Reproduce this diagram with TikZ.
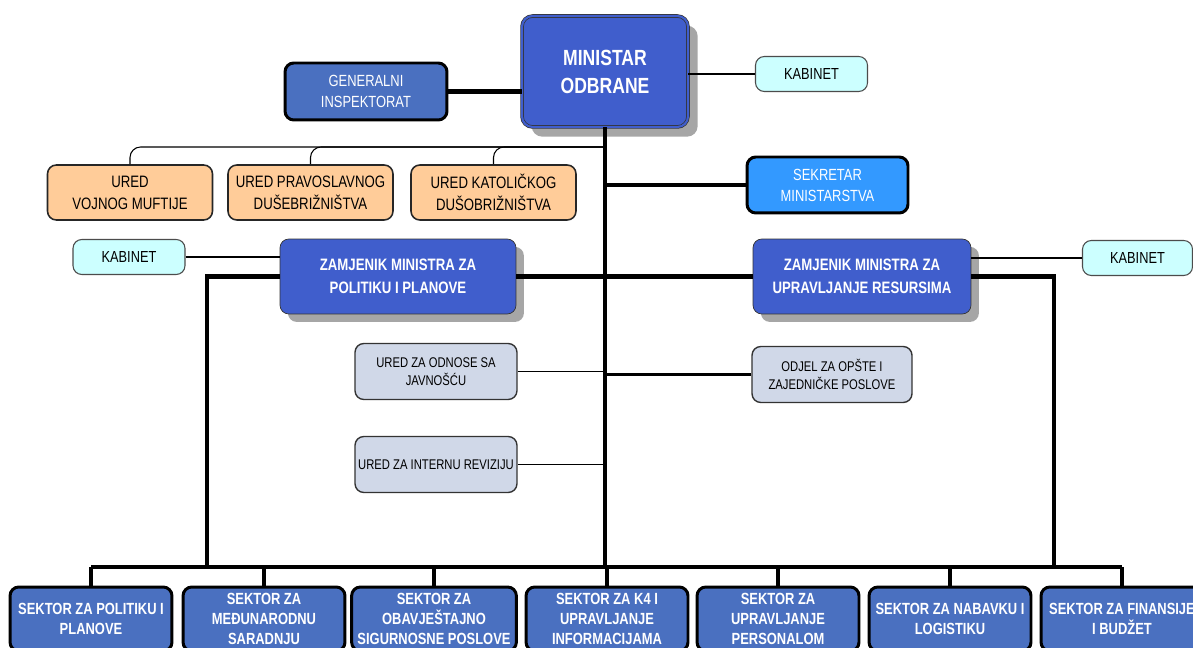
\documentclass[tikz,border=0pt]{standalone}
\usepackage{fontspec}
\setmainfont[FakeStretch=0.8]{Liberation Sans}
\usepackage{tikz}
\usetikzlibrary{shapes.geometric, arrows, shadows}
\definecolor{minblue}{RGB}{64,94,204}
\definecolor{sekblue}{RGB}{51,153,255}
\definecolor{steelblue}{RGB}{74,112,192}
\definecolor{uredorange}{RGB}{255,204,153}
\definecolor{kabcyan}{RGB}{204,255,255}
\definecolor{odjelgrey}{RGB}{208,216,232}
\tikzstyle{minbox} = [rectangle, rounded corners=6pt, minimum width=3.32cm, minimum height=2.22cm, align=center, draw=black!80, double=minblue, double distance=1.2pt, fill=minblue, text=white, font=\fontsize{12.5}{16}\selectfont\bfseries, drop shadow={shadow xshift=5.5pt, shadow yshift=-5.5pt, fill=black!35, opacity=1}]
\tikzstyle{zambox} = [rectangle, rounded corners=5pt, minimum height=1.5cm, align=center, draw=black!80, fill=minblue, text=white, font=\fontsize{9.4}{13}\selectfont\bfseries, drop shadow={shadow xshift=4.5pt, shadow yshift=-4.5pt, fill=black!35, opacity=1}]
\tikzstyle{inspbox} = [rectangle, rounded corners=5pt, minimum width=3.24cm, minimum height=1.14cm, align=center, draw=black, line width=1.7pt, fill=steelblue, text=white, font=\fontsize{9.2}{12}\selectfont]
\tikzstyle{sekbox} = [rectangle, rounded corners=5pt, minimum width=3.22cm, minimum height=1.12cm, align=center, draw=black, line width=1.7pt, fill=sekblue, text=white, font=\fontsize{9.2}{12}\selectfont]
\tikzstyle{sektorbox} = [rectangle, rounded corners=5pt, minimum width=3.24cm, minimum height=1.28cm, align=center, draw=black, line width=1.7pt, fill=steelblue, text=white, font=\fontsize{9.2}{11.5}\selectfont\bfseries]
\tikzstyle{uredbox} = [rectangle, rounded corners=5pt, minimum width=3.3cm, minimum height=1.1cm, align=center, draw=black!85, line width=0.9pt, fill=uredorange, font=\fontsize{9.4}{12.5}\selectfont]
\tikzstyle{kabinetbox} = [rectangle, rounded corners=5pt, minimum width=2.24cm, minimum height=0.7cm, align=center, draw=black!70, line width=0.6pt, fill=kabcyan, font=\fontsize{9.1}{11}\selectfont]
\tikzstyle{odjelbox} = [rectangle, rounded corners=5pt, minimum width=3.24cm, minimum height=1.12cm, align=center, draw=black!80, line width=0.8pt, fill=odjelgrey, font=\fontsize{8}{10.5}\selectfont]
\tikzstyle{thickline} = [line width=2.4pt, black]
\tikzstyle{midline} = [line width=1.2pt, black]
\tikzstyle{thinline} = [line width=0.6pt, black]

\begin{document}
\begin{tikzpicture}[x=0.02cm, y=-0.02cm]
	\useasboundingbox[fill=white] (0,0) rectangle (1193,648);
	\clip (0,0) rectangle (1193,648);

	\coordinate(bus) at (605,567);
	\coordinate(uredline) at (605,147);
	\coordinate(polbus) at (207,567);
	\coordinate(resbus) at (1054,567);

	\node(minister) [minbox] at (605,71.5) {MINISTAR\\ODBRANE};
	\node(inspektorat) [inspbox] at (366,91.5) {GENERALNI\\INSPEKTORAT};
	\node(kabinet) [kabinetbox] at (811.5,74) {KABINET};
	\node(muftija) [uredbox] at (130,192.5) {URED\\VOJNOG MUFTIJE};
	\node(pravoslavni) [uredbox] at (310.5,192.5) {URED PRAVOSLAVNOG\\DUŠEBRIŽNIŠTVA};
	\node(katolicki) [uredbox] at (493.5,192.5) {URED KATOLIČKOG\\DUŠOBRIŽNIŠTVA};
	\node(sekretar) [sekbox] at (827.5,185) {SEKRETAR\\MINISTARSTVA};
	\node(kabinetpol) [kabinetbox] at (129,257) {KABINET};
	\node(zampol) [zambox, minimum width=4.72cm] at (398,276.5) {ZAMJENIK MINISTRA ZA\\POLITIKU I PLANOVE};
	\node(zamres) [zambox, minimum width=4.36cm] at (862,276.5) {ZAMJENIK MINISTRA ZA\\UPRAVLJANJE RESURSIMA};
	\node(kabinetres) [kabinetbox, minimum width=2.2cm] at (1137.5,258) {KABINET};
	\node(javnost) [odjelbox] at (436,371.5) {URED ZA ODNOSE SA\\JAVNOŠĆU};
	\node(odjel) [odjelbox, minimum width=3.2cm] at (832,374.5) {ODJEL ZA OPŠTE I\\ZAJEDNIČKE POSLOVE};
	\node(revizija) [odjelbox, inner xsep=0.5pt] at (436,464.5) {URED ZA INTERNU REVIZIJU};

	\node(sekpol) [sektorbox] at (91,619) {SEKTOR ZA POLITIKU I\\PLANOVE};
	\node(sekmed) [sektorbox] at (264,619) {SEKTOR ZA\\MEĐUNARODNU\\SARADNJU};
	\node(sekobav) [sektorbox] at (434,619) {SEKTOR ZA\\OBAVJEŠTAJNO\\SIGURNOSNE POSLOVE};
	\node(sekkom) [sektorbox] at (607,619) {SEKTOR ZA K4 I\\UPRAVLJANJE\\INFORMACIJAMA};
	\node(sekpers) [sektorbox] at (778,619) {SEKTOR ZA\\UPRAVLJANJE\\PERSONALOM};
	\node(seknab) [sektorbox] at (950,619) {SEKTOR ZA NABAVKU I\\LOGISTIKU};
	\node(sekfin) [sektorbox] at (1122,619) {SEKTOR ZA FINANSIJE\\I BUDŽET};

	\draw[thickline] (inspektorat.east) -- (inspektorat.east -| minister.west);
	\draw[thinline] (kabinet.west) -- (kabinet.west -| minister.east);
	\draw[thickline] (minister.south) -- (bus);
	\draw[thinline, rounded corners=6pt] (muftija.north) |- (uredline);
	\draw[thinline, rounded corners=6pt] (pravoslavni.north) |- (uredline);
	\draw[thinline, rounded corners=6pt] (katolicki.north) |- (uredline);
	\draw[thickline] (sekretar.west) -- (sekretar.west -| bus);
	\draw[thinline] (kabinetpol.east) -- (kabinetpol.east -| zampol.west);
	\draw[thickline] (zampol.west) -| (polbus);
	\draw[thickline] (zampol.east) -- (zamres.west);
	\draw[thickline] (zamres.east) -| (resbus);
	\draw[thinline] (kabinetres.west) -- (kabinetres.west -| zamres.east);
	\draw[thinline] (javnost.east) -- (javnost.east -| bus);
	\draw[midline] (odjel.west) -- (odjel.west -| bus);
	\draw[thinline] (revizija.east) -- (revizija.east -| bus);

	\draw[thickline] (sekpol.north |- bus) -- (sekfin.north |- bus);
	\draw[thickline] (sekpol.north) -- (sekpol.north |- bus);
	\draw[thickline] (sekmed.north) -- (sekmed.north |- bus);
	\draw[thickline] (sekobav.north) -- (sekobav.north |- bus);
	\draw[thickline] (sekkom.north) -- (sekkom.north |- bus);
	\draw[thickline] (sekpers.north) -- (sekpers.north |- bus);
	\draw[thickline] (seknab.north) -- (seknab.north |- bus);
	\draw[thickline] (sekfin.north) -- (sekfin.north |- bus);
\end{tikzpicture}
\end{document}
